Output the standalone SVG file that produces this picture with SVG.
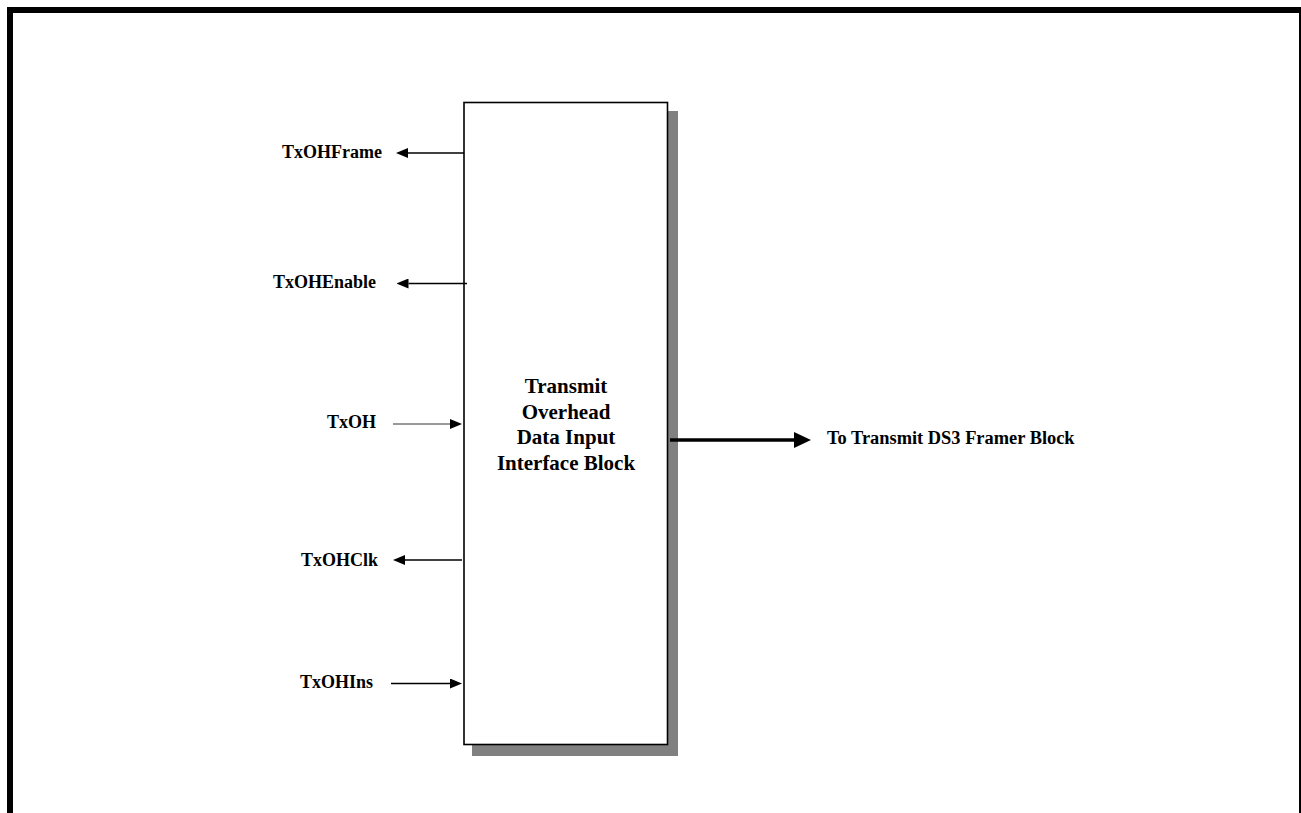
<svg xmlns="http://www.w3.org/2000/svg" width="1301" height="813" viewBox="0 0 1301 813">
  <style>
    .lbl { font-family: "Liberation Serif", "Times New Roman", serif; font-weight: bold; font-size: 18px; fill: #000; }
    .dst { font-family: "Liberation Serif", "Times New Roman", serif; font-weight: bold; font-size: 18.4px; fill: #000; }
    .blk { font-family: "Liberation Serif", "Times New Roman", serif; font-weight: bold; font-size: 21px; fill: #000; text-anchor: middle; }
    .sig { stroke: #000; stroke-width: 1.5; fill: none; marker-end: url(#ah); }
    .sigthin { stroke: #333; stroke-width: 1; fill: none; marker-end: url(#ah); }
    .out { stroke: #000; stroke-width: 3.5; fill: none; marker-end: url(#ahbig); }
  </style>
  <defs>
    <marker id="ah" markerUnits="userSpaceOnUse" markerWidth="12" markerHeight="10" refX="0" refY="5" orient="auto" viewBox="0 0 12 10">
      <path d="M0,0 L12,5 L0,10 z" fill="#000"/>
    </marker>
    <marker id="ahbig" markerUnits="userSpaceOnUse" markerWidth="17" markerHeight="16" refX="0" refY="8" orient="auto" viewBox="0 0 17 16">
      <path d="M0,0 L17,8 L0,16 z" fill="#000"/>
    </marker>
  </defs>
  <rect width="1301" height="813" fill="#fff"/>
  <g id="frame" fill="#000">
    <rect x="7" y="7" width="6" height="806"/>
    <rect x="7" y="7" width="1294" height="6"/>
    <rect x="1299" y="7" width="2" height="806"/>
  </g>
  <g id="block">
    <rect x="472" y="111" width="206" height="645" fill="#808080"/>
    <rect x="464" y="102.5" width="203.5" height="642" fill="#fff" stroke="#000" stroke-width="1.6"/>
    <text class="blk" x="566" y="393">Transmit</text>
    <text class="blk" x="566" y="418.5">Overhead</text>
    <text class="blk" x="566" y="444">Data Input</text>
    <text class="blk" x="566" y="469.5">Interface Block</text>
  </g>
  <g id="connectors">
    <path class="sig" d="M464,153 H408"/>
    <path class="sig" d="M467,283.5 H408.5"/>
    <path class="sigthin" d="M393,424 H450"/>
    <path class="sig" d="M462,560 H405"/>
    <path class="sig" d="M391,683.5 H450"/>
    <path class="out" d="M670,440 H794"/>
  </g>
  <g id="sig-txohframe"><text class="lbl" x="382" y="158" text-anchor="end">TxOHFrame</text></g>
  <g id="sig-txohenable"><text class="lbl" x="376" y="288" text-anchor="end">TxOHEnable</text></g>
  <g id="sig-txoh"><text class="lbl" x="376" y="428" text-anchor="end">TxOH</text></g>
  <g id="sig-txohclk"><text class="lbl" x="378" y="566" text-anchor="end">TxOHClk</text></g>
  <g id="sig-txohins"><text class="lbl" x="373" y="688" text-anchor="end">TxOHIns</text></g>
  <g id="dest"><text class="dst" x="827" y="444">To Transmit DS3 Framer Block</text></g>
</svg>
